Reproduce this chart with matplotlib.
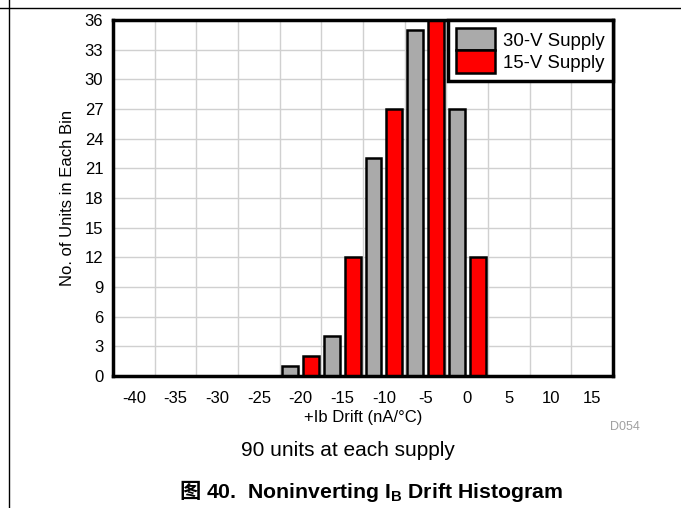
import matplotlib
matplotlib.use("Agg")
import matplotlib.pyplot as plt
import numpy as np
from matplotlib.lines import Line2D

plt.rcParams['font.family'] = ['Liberation Sans', 'Noto Sans CJK SC', 'DejaVu Sans']
plt.rcParams['axes.unicode_minus'] = False
plt.rcParams['mathtext.fontset'] = 'custom'
plt.rcParams['mathtext.rm'] = 'Liberation Sans'
plt.rcParams['mathtext.bf'] = 'Liberation Sans:bold'

bins = [-20, -15, -10, -5, 0]
supply_30v = [1, 4, 22, 35, 27]
supply_15v = [2, 12, 27, 36, 12]
x_ticks = [-40, -35, -30, -25, -20, -15, -10, -5, 0, 5, 10, 15]
y_ticks = [0, 3, 6, 9, 12, 15, 18, 21, 24, 27, 30, 33, 36]

fig = plt.figure(figsize=(6.81, 5.08), dpi=100)
ax = fig.add_axes([113 / 681, 1 - 376 / 508, 500 / 681, 356 / 508])

centers = np.array(bins, dtype=float)
ax.bar(centers - 1.25, supply_30v, width=1.9, color='#aaaaaa', edgecolor='black',
       linewidth=1.8, zorder=3, label='30-V Supply')
ax.bar(centers + 1.25, supply_15v, width=1.9, color='#ff0000', edgecolor='black',
       linewidth=1.8, zorder=3, label='15-V Supply')

ax.set_xlim(-42.5, 17.5)
ax.set_ylim(0, 36)
ax.set_xticks(x_ticks)
ax.set_yticks(y_ticks)
ax.set_xticks(np.arange(-37.5, 17.5, 5), minor=True)
ax.tick_params(axis='both', which='both', length=0, labelsize=12)
ax.tick_params(axis='x', pad=11)
ax.tick_params(axis='y', pad=7)
ax.grid(True, axis='y', which='major', color='#d0d0d0', linewidth=1, zorder=0)
ax.grid(True, axis='x', which='minor', color='#d0d0d0', linewidth=1, zorder=0)
ax.grid(False, axis='x', which='major')
for s in ax.spines.values():
    s.set_linewidth(2.5)
    s.set_zorder(5)

ax.set_xlabel('+Ib Drift (nA/\u00b0C)', fontsize=12, labelpad=3)
ax.set_ylabel('No. of Units in Each Bin', fontsize=12, labelpad=7)

leg = ax.legend(loc='upper right', fontsize=13.4, frameon=True, fancybox=False,
                framealpha=1, borderaxespad=0, handlelength=2.1,
                handleheight=1.45, labelspacing=0, handletextpad=0.4,
                borderpad=0.45)
leg.get_frame().set_edgecolor('black')
leg.get_frame().set_linewidth(2.5)
leg.set_zorder(6)

fig.text(625 / 681, 1 - 427 / 508, 'D054', color='#a0a0a0', fontsize=9,
         ha='center', va='center')
fig.text(348 / 681, 1 - 450 / 508, '90 units at each supply', fontsize=15,
         ha='center', va='center')

# caption: CJK prefix drawn separately so mathtext keeps the Latin font
title = fig.text(206 / 681, 1 - 492 / 508,
                 '40.  Noninverting I$\\mathregular{_B}$ Drift Histogram',
                 fontsize=15.3, fontweight='bold', ha='left', va='center')
renderer = fig.canvas.get_renderer()
bb = title.get_window_extent(renderer)
fig.text((bb.x0 - 5) / 681, 1 - 492 / 508, '\u56fe', fontsize=15.3,
         fontweight='bold', family='Noto Sans CJK SC', ha='right', va='center')

fig.add_artist(Line2D([0, 1], [1 - 8 / 508, 1 - 8 / 508], color='black',
                      linewidth=1, transform=fig.transFigure))
fig.add_artist(Line2D([9 / 681, 9 / 681], [0, 1], color='black',
                      linewidth=1, transform=fig.transFigure))

fig.savefig('out.png', dpi=100)
